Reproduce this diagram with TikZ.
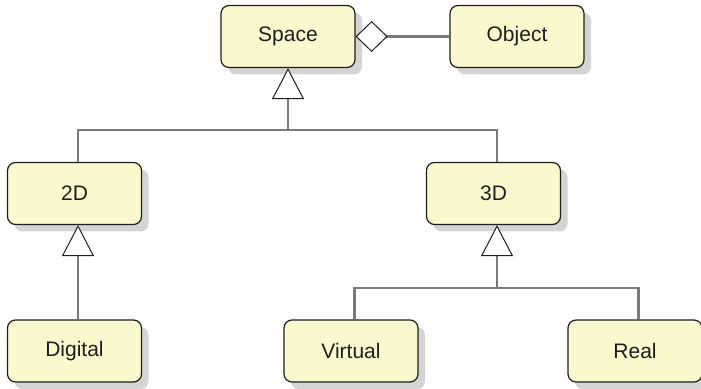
\documentclass[tikz,border=0pt]{standalone}
\usepackage{fontspec}
\setmainfont{Liberation Sans}
\usepackage{tikz}
\usetikzlibrary{arrows.meta,shadows}

\definecolor{boxfill}{RGB}{250,248,205}
\definecolor{boxline}{RGB}{30,30,30}
\definecolor{linkgray}{RGB}{122,122,122}
\definecolor{shadowgray}{RGB}{212,212,212}

\tikzset{
  classbox/.style={draw=boxline, fill=boxfill, line width=0.6pt, rounded corners=4pt,
    minimum width=67pt, minimum height=31pt, inner sep=0pt,
    font=\fontsize{10.5}{12}\selectfont, text=boxline,
    drop shadow={shadow xshift=3.5pt, shadow yshift=-3.5pt, fill=shadowgray, opacity=1}},
  link/.style={draw=linkgray, line width=1.1pt},
  gen/.style={link, -{Triangle[open, length=15.5pt, width=16pt, line width=0.5pt, color=boxline, fill=white]}},
  agg/.style={link, {Diamond[open, length=16pt, width=15.5pt, line width=0.5pt, color=boxline, fill=white]}-}
}

\begin{document}
\begin{tikzpicture}[x=0.5pt,y=0.5pt,yscale=-1]
\useasboundingbox (0,0) rectangle (701,389);

% classes
\node[classbox] (space)   at (288,36.5)   {Space};
\node[classbox] (object)  at (517,36.5)   {Object};
\node[classbox] (twod)    at (74.5,193.5) {2D};
\node[classbox] (threed)  at (493.5,193.5) {3D};
\node[classbox] (digital) at (74.5,351)   {Digital};
\node[classbox] (virtual) at (351,351)    {Virtual};
\node[classbox] (real)    at (635,351)    {Real};

% branch points
\coordinate (sjoin) at (288,130);
\coordinate (tjoin) at (497,288);

% aggregation
\draw[agg] (space) -- (object);

% generalisations
\draw[link] ([xshift=1.75pt]twod.north) |- (sjoin) -| ([xshift=1.75pt]threed.north);
\draw[gen] (sjoin) -- (space.south);
\draw[gen] ([xshift=1.75pt]digital.north) -- ([xshift=1.75pt]twod.south);
\draw[link] ([xshift=1.75pt]virtual.north) |- (tjoin) -| ([xshift=1.75pt]real.north);
\draw[gen] (tjoin) -- ([xshift=1.75pt]threed.south);

\end{tikzpicture}
\end{document}
